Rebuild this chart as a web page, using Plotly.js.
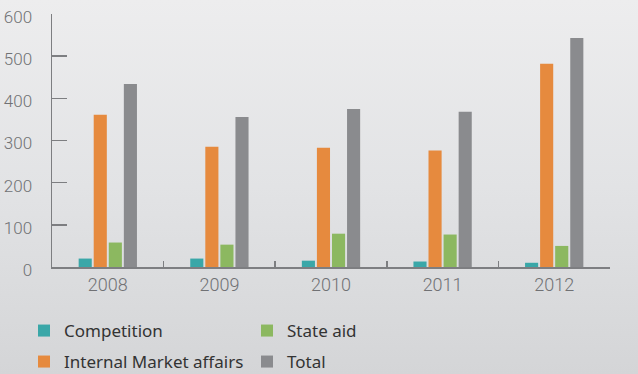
<!DOCTYPE html>
<html>
<head>
<meta charset="utf-8">
<script src="https://cdn.plot.ly/plotly-3.0.1.min.js"></script>
<style>
  html, body { margin: 0; padding: 0; }
  #chart { width: 638px; height: 374px; background: linear-gradient(to bottom, #ededee 0%, #e2e3e5 50%, #d4d5d7 100%); }
</style>
</head>
<body>
<div id="chart"></div>
<script>
const years = ['2008', '2009', '2010', '2011', '2012'];
const competition = [20, 20, 15, 13, 10];
const internalMarket = [361, 285, 283, 276, 482];
const stateAid = [58, 53, 79, 77, 50];
const total = [434, 356, 375, 368, 543];
const yTicks = [0, 100, 200, 300, 400, 500, 600];

const legendFont = { family: '"Noto Sans", "Open Sans", sans-serif', stretch: 'condensed', size: 17, color: '#333333' };

const traces = [
  { name: 'Competition', x: years, y: competition, type: 'bar', marker: { color: '#3aa7a8' }, legend: 'legend', hoverinfo: 'y' },
  { name: 'Internal Market affairs', x: years, y: internalMarket, type: 'bar', marker: { color: '#e68a3e' }, legend: 'legend2', hoverinfo: 'y' },
  { name: 'State aid', x: years, y: stateAid, type: 'bar', marker: { color: '#8cb860' }, legend: 'legend', hoverinfo: 'y' },
  { name: 'Total', x: years, y: total, type: 'bar', marker: { color: '#8a8b8e' }, legend: 'legend2', hoverinfo: 'y' }
];

const legendBase = {
  orientation: 'h', xref: 'container', yref: 'container', xanchor: 'left', yanchor: 'middle',
  bgcolor: 'rgba(0,0,0,0)', font: legendFont, entrywidth: 178, entrywidthmode: 'pixels',
  itemwidth: 30, itemclick: false, itemdoubleclick: false
};

const layout = {
  width: 638, height: 374,
  margin: { l: 52, r: 28, t: 14, b: 107 },
  paper_bgcolor: 'rgba(0,0,0,0)', plot_bgcolor: 'rgba(0,0,0,0)',
  barmode: 'group', bargap: 0.46, bargroupgap: 0.13,
  font: { family: 'Roboto, "Open Sans", sans-serif', color: '#6d6e71' },
  xaxis: {
    type: 'category', showgrid: false, zeroline: false,
    showline: true, linecolor: '#7d7e81', linewidth: 1.5,
    ticks: 'inside', tickson: 'boundaries', ticklen: 6, tickcolor: '#7d7e81', tickwidth: 1.5,
    tickfont: { size: 18, color: '#707174', weight: 300 }, ticklabelstandoff: 1
  },
  yaxis: {
    range: [0, 600], tickvals: yTicks, showgrid: false, zeroline: false,
    showline: true, linecolor: '#7d7e81', linewidth: 1.5,
    ticks: 'inside', ticklen: 15, tickcolor: '#7d7e81', tickwidth: 1.5,
    tickfont: { size: 17, color: '#707174', weight: 300 }, ticklabelstandoff: 15, ticklabelshift: 3
  },
  legend: Object.assign({}, legendBase, { x: 24 / 638, y: 1 - 331 / 374 }),
  legend2: Object.assign({}, legendBase, { x: 24 / 638, y: 1 - 362 / 374 }),
  showlegend: true
};

Plotly.newPlot('chart', traces, layout, { displayModeBar: false, staticPlot: true });
</script>
</body>
</html>
